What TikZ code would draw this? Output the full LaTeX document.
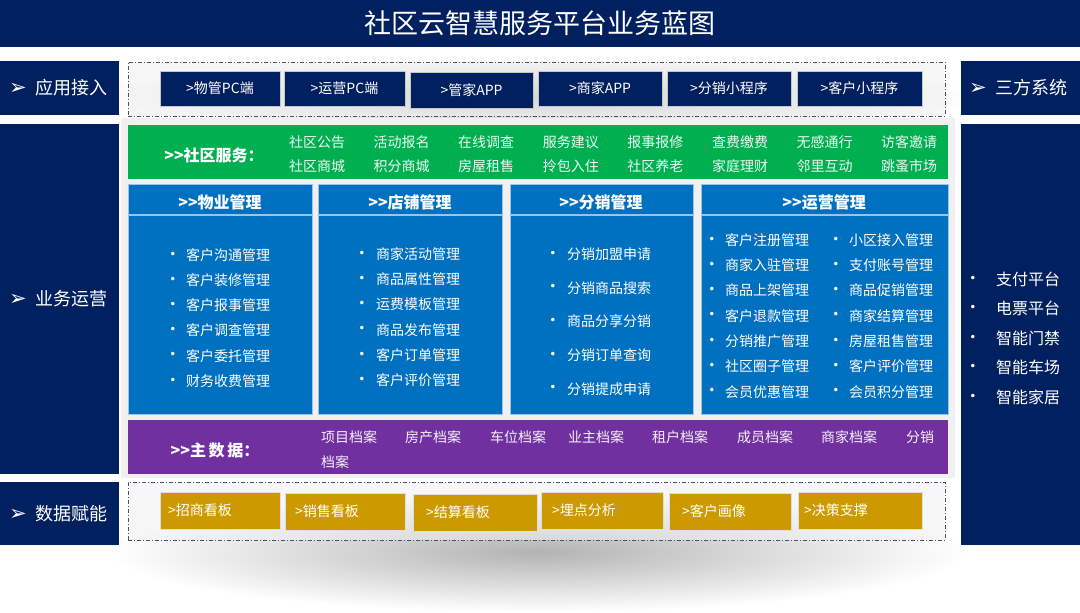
\documentclass[tikz,border=0pt]{standalone}
\usepackage{fontspec}
\setmainfont{Noto Sans CJK SC}
\newfontfamily\symf{DejaVu Sans}
\usetikzlibrary{positioning}
\definecolor{navy}{HTML}{002060}
\definecolor{grn}{HTML}{00B050}
\definecolor{blu}{HTML}{0070C0}
\definecolor{pur}{HTML}{7030A0}
\definecolor{gold}{HTML}{CC9900}
\definecolor{lblue}{HTML}{9DC3E6}
\definecolor{bgg}{HTML}{F0F0F0}
\definecolor{frm}{HTML}{44546A}
\newcommand\arw{{\symf\fontsize{21}{21}\selectfont ➢}\hspace{9pt}}
\tikzset{
  box/.style={inner sep=0pt, outer sep=0pt, anchor=north west},
  side/.style={box, fill=navy},
  lab/.style={text=white, anchor=west, inner sep=0pt, font=\fontsize{18}{20}\selectfont},
  appbtn/.style={box, fill=navy, draw=gray!45, line width=0.7pt, minimum height=35pt},
  goldbtn/.style={box, fill=gold, draw=gray!25, line width=0.7pt, minimum height=37pt},
  btntxt/.style={text=white, inner sep=0pt, font=\fontsize{14}{16}\selectfont},
  frame/.style={draw=frm, line width=0.9pt, dash pattern=on 4pt off 2pt on 1pt off 2pt},
  panel/.style={box, fill=blu, draw=lblue, line width=0.8pt},
  phead/.style={text=white, inner sep=0pt, font=\bfseries\fontsize{16}{18}\selectfont},
  itm/.style={text=white, anchor=west, inner sep=0pt, font=\fontsize{14}{16}\selectfont},
  svc/.style={text=white!93!grn, inner sep=0pt, font=\fontsize{14}{16}\selectfont},
  mdi/.style={text=white!93!pur, anchor=west, inner sep=0pt, font=\fontsize{14}{16}\selectfont},
  bul/.style={text=white, inner sep=0pt, font=\symf\fontsize{12}{12}\selectfont},
  rit/.style={text=white, anchor=west, inner sep=0pt, font=\fontsize{16}{18}\selectfont},
}
\begin{document}
\begin{tikzpicture}[x=1pt,y=-1pt]
\useasboundingbox (0,0) rectangle (1080,613);
\fill[white] (0,0) rectangle (1080,613);
% soft shadows
\shade[inner color=black!30, outer color=white] (537,552) ellipse (430 and 60);
\shade[inner color=black!28, outer color=white] (537,96) ellipse (440 and 38);
% grey band behind the middle
\fill[bgg] (121,118) rectangle (955,478);
% title
\node[box, fill=navy, minimum width=1080pt, minimum height=47pt] (titlebar) at (0,0) {};
\node[text=white, inner sep=0pt, font=\fontsize{27}{30}\selectfont] (title) at (540,23) {社区云智慧服务平台业务蓝图};
% left column
\node[side, minimum width=119pt, minimum height=54pt] (lapp) at (0,61) {};
\node[side, minimum width=119pt, minimum height=350pt] (lbiz) at (0,124) {};
\node[side, minimum width=119pt, minimum height=63pt] (ldata) at (0,482) {};
\node[lab] (lappt) at (9,88) {\arw 应用接入};
\node[lab] (lbizt) at (9,299) {\arw 业务运营};
\node[lab] (ldatat) at (9,514) {\arw 数据赋能};
% right column
\node[side, minimum width=119pt, minimum height=54pt] (rsys) at (961,61) {};
\node[side, minimum width=119pt, minimum height=421pt] (rlist) at (961,124) {};
\node[lab] (rsyst) at (969,88) {\arw 三方系统};
\foreach \t [count=\i] in {支付平台,电票平台,智能门禁,智能车场,智能家居}{
  \node[bul] (rb\i) at (973,{279+29.5*(\i-1)}) {•};
  \node[rit] (ri\i) at (996,{279+29.5*(\i-1)}) {\t};
}
% app access frame
\fill[bgg, opacity=0.55] (128,62) rectangle (945,116);
\node[box, frame, minimum width=817pt, minimum height=54pt] (appframe) at (128,62) {};
\node[appbtn, minimum width=120pt] (a1) at (160,71) {};
\node[appbtn, minimum width=121pt] (a2) at (284,71) {};
\node[appbtn, minimum width=123pt, minimum height=36pt] (a3) at (410,72) {};
\node[appbtn, minimum width=124pt] (a4) at (538,71) {};
\node[appbtn, minimum width=124pt] (a5) at (667,71) {};
\node[appbtn, minimum width=125pt] (a6) at (797,71) {};
\node[btntxt] at (a1.center) {>物管PC端};
\node[btntxt] at (a2.center) {>运营PC端};
\node[btntxt] at (a3.center) {>管家APP};
\node[btntxt] at (a4.center) {>商家APP};
\node[btntxt] at (a5.center) {>分销小程序};
\node[btntxt] at (a6.center) {>客户小程序};
% community services
\node[box, fill=grn, minimum width=820pt, minimum height=54pt] (svcbar) at (128,125) {};
\node[text=white, inner sep=0pt, font=\bfseries\fontsize{16}{18}\selectfont] (svclab) at (214,155) {>{}>社区服务：};
\foreach \a/\b [count=\i] in {社区公告/社区商城,活动报名/积分商城,在线调查/房屋租售,服务建议/拎包入住,报事报修/社区养老,查费缴费/家庭理财,无感通行/邻里互动,访客邀请/跳蚤市场}{
  \node[svc] (s\i a) at ({317+84.6*(\i-1)},142) {\a};
  \node[svc] (s\i b) at ({317+84.6*(\i-1)},166) {\b};
}
% panels
\node[panel, minimum width=184pt, minimum height=230pt] (p1) at (128,184) {};
\node[panel, minimum width=184pt, minimum height=230pt] (p2) at (318,184) {};
\node[panel, minimum width=183pt, minimum height=230pt] (p3) at (510,184) {};
\node[panel, minimum width=247pt, minimum height=230pt] (p4) at (701,184) {};
\foreach \p in {p1,p2,p3,p4}{
  \draw[lblue, line width=1.2pt] ([yshift=-31pt]\p.north west) -- ([yshift=-31pt]\p.north east);
}
\node[phead] (h1) at (220,202) {>{}>物业管理};
\node[phead] (h2) at (410,202) {>{}>店铺管理};
\node[phead] (h3) at (601,202) {>{}>分销管理};
\node[phead] (h4) at (824,202) {>{}>运营管理};
\foreach \t [count=\i] in {客户沟通管理,客户装修管理,客户报事管理,客户调查管理,客户委托管理,财务收费管理}{
  \node[bul] (b1\i) at (173,{255+25.2*(\i-1)}) {•};
  \node[itm] (t1\i) at (186,{255+25.2*(\i-1)}) {\t};
}
\foreach \t [count=\i] in {商家活动管理,商品属性管理,运费模板管理,商品发布管理,客户订单管理,客户评价管理}{
  \node[bul] (b2\i) at (362,{254+25.3*(\i-1)}) {•};
  \node[itm] (t2\i) at (376,{254+25.3*(\i-1)}) {\t};
}
\foreach \t [count=\i] in {分销加盟申请,分销商品搜索,商品分享分销,分销订单查询,分销提成申请}{
  \node[bul] (b3\i) at (553,{254+33.7*(\i-1)}) {•};
  \node[itm] (t3\i) at (567,{254+33.7*(\i-1)}) {\t};
}
\foreach \a/\b [count=\i] in {客户注册管理/小区接入管理,商家入驻管理/支付账号管理,商品上架管理/商品促销管理,客户退款管理/商家结算管理,分销推广管理/房屋租售管理,社区圈子管理/客户评价管理,会员优惠管理/会员积分管理}{
  \node[bul] (b4\i) at (712,{240+25.3*(\i-1)}) {•};
  \node[itm] (t4\i) at (725,{240+25.3*(\i-1)}) {\a};
  \node[bul] (c4\i) at (836,{240+25.3*(\i-1)}) {•};
  \node[itm] (u4\i) at (849,{240+25.3*(\i-1)}) {\b};
}
% master data
\node[box, fill=pur, minimum width=820pt, minimum height=54pt] (mdbar) at (128,420) {};
\node[text=white, inner sep=0pt, font=\bfseries\fontsize{16}{18}\selectfont] (mdlab) at (215,450) {>{}>主\,数\,据：};
\node[mdi] (m1) at (321,437) {项目档案};
\node[mdi] (m2) at (405,437) {房产档案};
\node[mdi] (m3) at (490,437) {车位档案};
\node[mdi] (m4) at (568,437) {业主档案};
\node[mdi] (m5) at (652,437) {租户档案};
\node[mdi] (m6) at (737,437) {成员档案};
\node[mdi] (m7) at (821,437) {商家档案};
\node[mdi] (m8) at (906,437) {分销};
\node[mdi] (m9) at (321,462) {档案};
% data frame
\fill[bgg, opacity=0.5] (128,482) rectangle (945,540);
\node[box, frame, minimum width=817pt, minimum height=58pt] (dataframe) at (128,482) {};
\node[goldbtn, minimum width=120pt] (d1) at (160,492) {};
\node[goldbtn, minimum width=120pt] (d2) at (285,493) {};
\node[goldbtn, minimum width=124pt] (d3) at (413,494) {};
\node[goldbtn, minimum width=122pt] (d4) at (541,492) {};
\node[goldbtn, minimum width=122pt] (d5) at (669,493) {};
\node[goldbtn, minimum width=124pt] (d6) at (798,492) {};
\node[btntxt] at ([xshift=-20pt]d1.center) {>招商看板};
\node[btntxt] at ([xshift=-18pt]d2.center) {>销售看板};
\node[btntxt] at ([xshift=-17pt]d3.center) {>结算看板};
\node[btntxt] at ([xshift=-18pt]d4.center) {>埋点分析};
\node[btntxt] at ([xshift=-16pt]d5.center) {>客户画像};
\node[btntxt] at ([xshift=-24pt]d6.center) {>决策支撑};
\end{tikzpicture}
\end{document}
